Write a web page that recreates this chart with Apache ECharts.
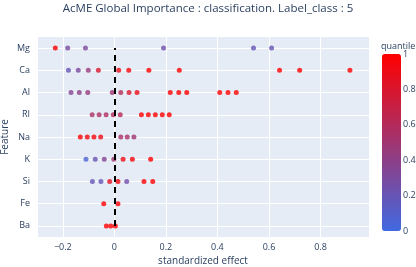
<!DOCTYPE html>
<html>
<head>
<meta charset="utf-8">
<script src="https://cdn.jsdelivr.net/npm/echarts@6/dist/echarts.min.js"></script>
<style>html,body{margin:0;padding:0;background:#fff;}#c{width:416px;height:267px;}</style>
</head>
<body>
<div id="c"></div>
<script>
// Features, bottom to top
const features = ['Ba', 'Fe', 'Si', 'K', 'Na', 'RI', 'Al', 'Ca', 'Mg'];

const mgEffect = [-0.229, -0.181, -0.112, 0.191, 0.540, 0.610];
const mgQuantile = [1.0, 0.3, 0.3, 0.25, 0.2, 0.2];
const caEffect = [-0.178, -0.140, -0.101, -0.062, 0.017, 0.056, 0.134, 0.252, 0.641, 0.719, 0.914];
const caQuantile = [0.2, 0.3, 0.45, 0.8, 0.9, 0.95, 1.0, 1.0, 1.0, 1.0, 1.0];
const alEffect = [-0.168, -0.136, -0.103, -0.008, 0.025, 0.057, 0.088, 0.217, 0.250, 0.281, 0.409, 0.441, 0.473];
const alQuantile = [0.35, 0.4, 0.45, 0.5, 0.6, 0.8, 0.9, 1.0, 1.0, 1.0, 1.0, 1.0, 1.0];
const riEffect = [-0.086, -0.059, -0.032, -0.004, 0.023, 0.105, 0.132, 0.159, 0.186, 0.213];
const riQuantile = [0.55, 0.55, 0.58, 0.6, 0.62, 1.0, 1.0, 1.0, 1.0, 1.0];
const naEffect = [-0.132, -0.105, -0.079, -0.053, 0.025, 0.050, 0.076];
const naQuantile = [1.0, 0.95, 0.95, 0.9, 0.55, 0.55, 0.5];
const kEffect = [-0.110, -0.074, -0.039, -0.002, 0.034, 0.070, 0.141];
const kQuantile = [0.05, 0.2, 0.35, 0.5, 0.9, 0.95, 1.0];
const siEffect = [-0.085, -0.052, -0.018, 0.014, 0.048, 0.115, 0.149];
const siQuantile = [0.2, 0.2, 0.85, 0.95, 0.25, 1.0, 1.0];
const feEffect = [-0.041, 0.014];
const feQuantile = [1.0, 1.0];
const baEffect = [-0.031, -0.014, 0.004];
const baQuantile = [1.0, 1.0, 1.0];

const xTicks = { min: -0.3, max: 0.988 };
const colorbarTicks = { min: 0, max: 1, interval: 0.2 };

const rows = [
  ['Mg', mgEffect, mgQuantile], ['Ca', caEffect, caQuantile], ['Al', alEffect, alQuantile],
  ['RI', riEffect, riQuantile], ['Na', naEffect, naQuantile], ['K', kEffect, kQuantile],
  ['Si', siEffect, siQuantile], ['Fe', feEffect, feQuantile], ['Ba', baEffect, baQuantile]
];
const points = [];
rows.forEach(([name, eff, q]) => eff.forEach((e, i) => points.push([e, name, q[i]])));

const FONT = '"Open Sans", sans-serif';
const TXT = '#2a3f5f';

const chart = echarts.init(document.getElementById('c'), null, { renderer: 'canvas' });
chart.setOption({
  animation: false,
  backgroundColor: '#fff',
  textStyle: { fontFamily: FONT },
  title: {
    text: 'AcME Global Importance : classification. Label_class : 5',
    left: 'center', top: 0, padding: [3, 5],
    textStyle: { fontFamily: FONT, fontSize: 11.5, fontWeight: 'normal', color: TXT }
  },
  graphic: [{
    type: 'text', left: 381, top: 42, silent: true,
    style: { text: 'quantile', fontFamily: FONT, fontSize: 9, fill: TXT }
  }],
  grid: [
    { left: 37, right: 47, top: 37, bottom: 30, show: true, backgroundColor: '#E5ECF6', borderWidth: 0,
      containLabel: false, outerBoundsMode: 'none' },
    { left: 382, width: 19, top: 54, height: 177, show: false, containLabel: false, outerBoundsMode: 'none' }
  ],
  xAxis: [
    {
      type: 'value', gridIndex: 0, min: xTicks.min, max: xTicks.max,
      splitNumber: 6,
      name: 'standardized effect', nameLocation: 'middle', nameGap: 19, nameMoveOverlap: false,
      nameTextStyle: { fontFamily: FONT, fontSize: 10, color: TXT },
      axisLine: { show: false }, axisTick: { show: false },
      axisLabel: { fontFamily: FONT, fontSize: 9, color: TXT, margin: 6, showMinLabel: false, showMaxLabel: false,
        formatter: v => (Math.abs(v) < 1e-9 ? '0' : (v < 0 ? '\u2212' + (-v).toString() : v.toString())) },
      splitLine: { show: true, lineStyle: { color: '#fff', width: 1 } }
    },
    { type: 'value', gridIndex: 1, show: false, min: 0, max: 1 }
  ],
  yAxis: [
    {
      type: 'category', gridIndex: 0, data: features, boundaryGap: true,
      name: 'Feature', nameLocation: 'middle', nameGap: 27, nameRotate: 90, nameMoveOverlap: false,
      nameTextStyle: { fontFamily: FONT, fontSize: 10, color: TXT },
      axisLine: { show: false }, axisTick: { show: false, alignWithLabel: true },
      axisLabel: { fontFamily: FONT, fontSize: 9, color: TXT, margin: 7 },
      splitLine: { show: true, alignWithLabel: true, lineStyle: { color: '#fff', width: 1 } }
    },
    {
      type: 'value', gridIndex: 1, position: 'right', min: colorbarTicks.min, max: colorbarTicks.max,
      interval: colorbarTicks.interval,
      axisLine: { show: false }, axisTick: { show: false }, splitLine: { show: false },
      axisLabel: { fontFamily: FONT, fontSize: 9, color: TXT, margin: 2 }
    }
  ],
  visualMap: {
    type: 'continuous', seriesIndex: 0, dimension: 2, min: 0, max: 1,
    calculable: false, hoverLink: false, text: null, padding: 0,
    left: 382, top: 54, itemWidth: 19, itemHeight: 177,
    inRange: { color: ['#4169e1', '#ff0000'] }
  },
  series: [
    {
      type: 'scatter', xAxisIndex: 0, yAxisIndex: 0, symbolSize: 5,
      data: points,
      markLine: {
        silent: true, symbol: 'none', label: { show: false },
        lineStyle: { color: '#000', width: 2, type: [6, 5] },
        data: [[{ coord: [0, 'Ba'] }, { coord: [0, 'Mg'] }]]
      }
    },
    { type: 'scatter', xAxisIndex: 1, yAxisIndex: 1, data: [] }
  ]
});
</script>
</body>
</html>
